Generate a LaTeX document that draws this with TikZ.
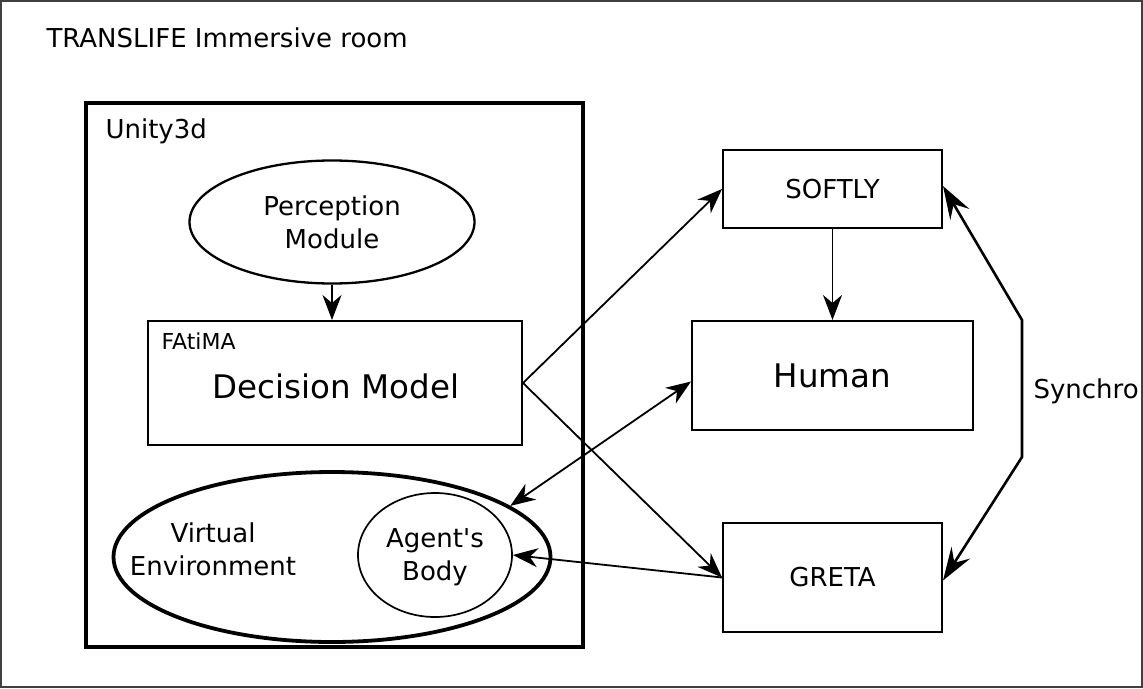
\documentclass[tikz,border=0pt]{standalone}
\usepackage{fontspec}
\newfontfamily\dejavu{DejaVu Sans}
\usetikzlibrary{arrows.meta,shapes.geometric,calc}
\begin{document}
\begin{tikzpicture}[x=1pt,y=-1pt,
  >={Stealth[length=25pt,width=19pt,inset=8pt]},
  fs/.style={font=\dejavu\fontsize{26}{33}\selectfont},
  fbig/.style={font=\dejavu\fontsize{32.5}{39}\selectfont},
  fsmall/.style={font=\dejavu\fontsize{22}{26}\selectfont},
  box/.style={draw, rectangle, line width=2pt, inner sep=0pt},
  oval/.style={draw, ellipse, inner sep=0pt, align=center},
  conn/.style={line width=1.8pt},
  synchro/.style={line width=2.6pt, >={Stealth[length=33pt,width=22pt,inset=12pt]}}]
\useasboundingbox (0,0) rectangle (1143,688);
\draw[black!75, line width=1.5pt] (1,1) rectangle (1142,687);
\node[anchor=base west, fs] (title) at (43,47) {TRANSLIFE Immersive room};
% Unity3d container
\node[draw, line width=4pt, minimum width=497pt, minimum height=544pt, inner sep=0pt] (unity) at (334.5,375) {};
\node[anchor=base west, fs] (unitylabel) at (102,138) {Unity3d};
\node[oval, line width=2.3pt, minimum width=285pt, minimum height=123pt, fs] (perc) at (332,222) {Perception\\Module};
\node[box, minimum width=374pt, minimum height=124pt] (dm) at (335,383) {};
\node[anchor=base west, fsmall] (fatima) at (158,349) {FAtiMA};
\node[anchor=base, fbig] (dmtext) at (336,398) {Decision Model};
\node[oval, line width=3.8pt, minimum width=437pt, minimum height=170pt] (ve) at (332,557) {};
\node[align=center, fs] (vetext) at (213,549) {Virtual\\Environment};
\node[oval, line width=1.7pt, minimum width=154pt, minimum height=124pt, fs, text depth=0pt] (body) at (435,555) {Agent's\\Body};
% right side
\node[box, minimum width=219pt, minimum height=78pt, fs] (softly) at (832.5,189) {SOFTLY};
\node[box, minimum width=281pt, minimum height=109pt, fbig] (human) at (832.5,375.5) {Human};
\node[box, minimum width=219pt, minimum height=109pt, fs] (greta) at (832.5,577.5) {GRETA};
\coordinate (s1) at (1022,320);
\coordinate (s2) at (1022,457);
\node[anchor=base west, fs] (synchrolabel) at (1030,398) {Synchro};
% connectors
\draw[conn,->] (perc.south) -- (perc.south |- dm.north);
\draw[conn,->] (dm.east) -- (softly.west);
\draw[conn,->] (dm.east) -- (greta.west);
\draw[conn,->] (greta.west) -- (body.east);
\draw[conn,<->] ($(human.west)+(0,6)$) -- (ve.16);
\draw[conn,->] (softly.south) -- (human.north);
\draw[synchro,<->] ($(softly.east)+(0,-3)$) -- (s1) -- (s2) -- ($(greta.east)+(0,3)$);
\end{tikzpicture}
\end{document}
